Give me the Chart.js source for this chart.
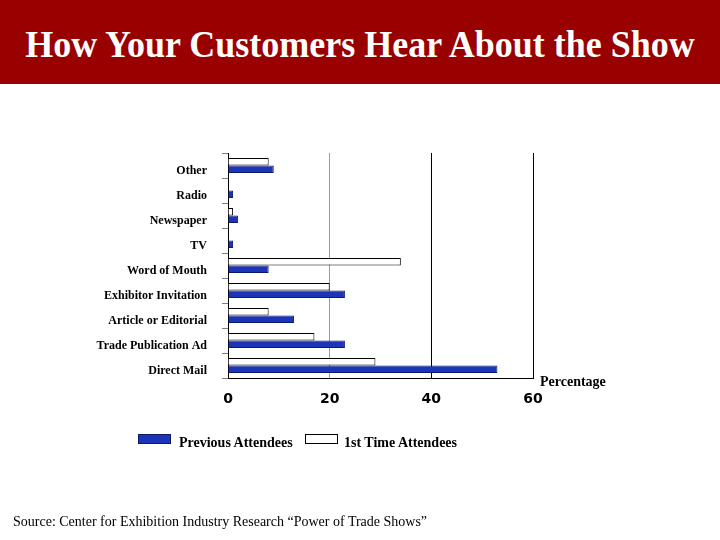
<!DOCTYPE html>
<html>
<head>
<meta charset="utf-8">
<script src="https://cdn.jsdelivr.net/npm/chart.js@4/dist/chart.umd.min.js"></script>
<style>
  body { margin: 0; width: 720px; height: 540px; background: #fff; position: relative; overflow: hidden; }
  #banner { position: absolute; left: 0; top: 0; width: 720px; height: 84px; background: #990000; }
  #title { position: absolute; left: 0; top: 23px; width: 720px; text-align: center; color: #fff;
           font: bold 36px "Liberation Serif", "DejaVu Serif", serif; transform: scaleY(1.08); }
  #chart-wrap { position: absolute; left: 0; top: 0; width: 720px; height: 540px; }
  .serif { font-family: "Liberation Serif", "DejaVu Serif", serif; }
  #unit { position: absolute; left: 540px; top: 374px; font-weight: bold; font-size: 14px; }
  #legend { position: absolute; top: 434px; left: 0; font-size: 14px; font-weight: bold; }
  .swatch { position: absolute; width: 31px; height: 8px; top: 0; }
  .lbl { position: absolute; top: 1px; white-space: nowrap; }
  #source { position: absolute; left: 13px; top: 514px; font-size: 14px; }
</style>
</head>
<body>
<div id="banner"></div>
<div id="title">How Your Customers Hear About the Show</div>
<div id="chart-wrap"><canvas id="chart" width="720" height="540"></canvas></div>
<div id="unit" class="serif">Percentage</div>
<div id="legend" class="serif">
  <div class="swatch" style="left:138px;background:#1c34b8;border:1px solid #0c1a6a;"></div>
  <div class="lbl" style="left:179px;">Previous Attendees</div>
  <div class="swatch" style="left:305px;background:#fff;border:1px solid #000;"></div>
  <div class="lbl" style="left:344px;">1st Time Attendees</div>
</div>
<div id="source" class="serif">Source: Center for Exhibition Industry Research “Power of Trade Shows”</div>
<script>
// Categories, top to bottom
const categories = ['Other', 'Radio', 'Newspaper', 'TV', 'Word of Mouth',
  'Exhibitor Invitation', 'Article or Editorial', 'Trade Publication Ad', 'Direct Mail'];

// Percent of respondents
const firstTimeValues = [8, 0, 1, 0, 34, 20, 8, 17, 29];
const previousValues = [9, 1, 2, 1, 8, 23, 13, 23, 53];

const xTicks = [0, 20, 40, 60];

const ctx = document.getElementById('chart').getContext('2d');
new Chart(ctx, {
  type: 'bar',
  data: {
    labels: categories,
    datasets: [{
      label: '1st Time Attendees',
      data: firstTimeValues,
      backgroundColor: '#ffffff',
      borderColor: '#000000',
      borderWidth: 1,
      barPercentage: 1,
      categoryPercentage: 0.6
    }, {
      label: 'Previous Attendees',
      data: previousValues,
      backgroundColor: '#1c34b8',
      borderColor: '#0c1a6a',
      borderWidth: 1,
      barPercentage: 1,
      categoryPercentage: 0.6
    }]
  },
  options: {
    indexAxis: 'y',
    responsive: false,
    animation: false,
    layout: { padding: { left: 0, top: 153, right: 187, bottom: 122 } },
    plugins: { legend: { display: false }, tooltip: { enabled: false } },
    scales: {
      y: {
        afterFit: scale => { scale.width = 228; },
        grid: { drawOnChartArea: false, drawTicks: true, tickLength: 6, color: '#808080' },
        border: { color: '#000000', width: 1 },
        ticks: {
          color: '#000',
          padding: 15,
          labelOffset: 5,
          font: { family: 'Liberation Serif', size: 12, weight: 'bold' }
        }
      },
      x: {
        min: 0,
        max: 60,
        afterFit: scale => { scale.height = 40; },
        afterBuildTicks: scale => { scale.ticks = xTicks.map(v => ({ value: v })); },
        grid: {
          drawTicks: false,
          color: c => (c.tick && c.tick.value === 20 ? '#9a9a9a' : '#000000'),
          lineWidth: 1
        },
        border: { color: '#000000', width: 1 },
        ticks: {
          color: '#000',
          padding: 13,
          font: { family: 'DejaVu Sans', size: 14, weight: 'bold' }
        }
      }
    }
  }
});
</script>
</body>
</html>
